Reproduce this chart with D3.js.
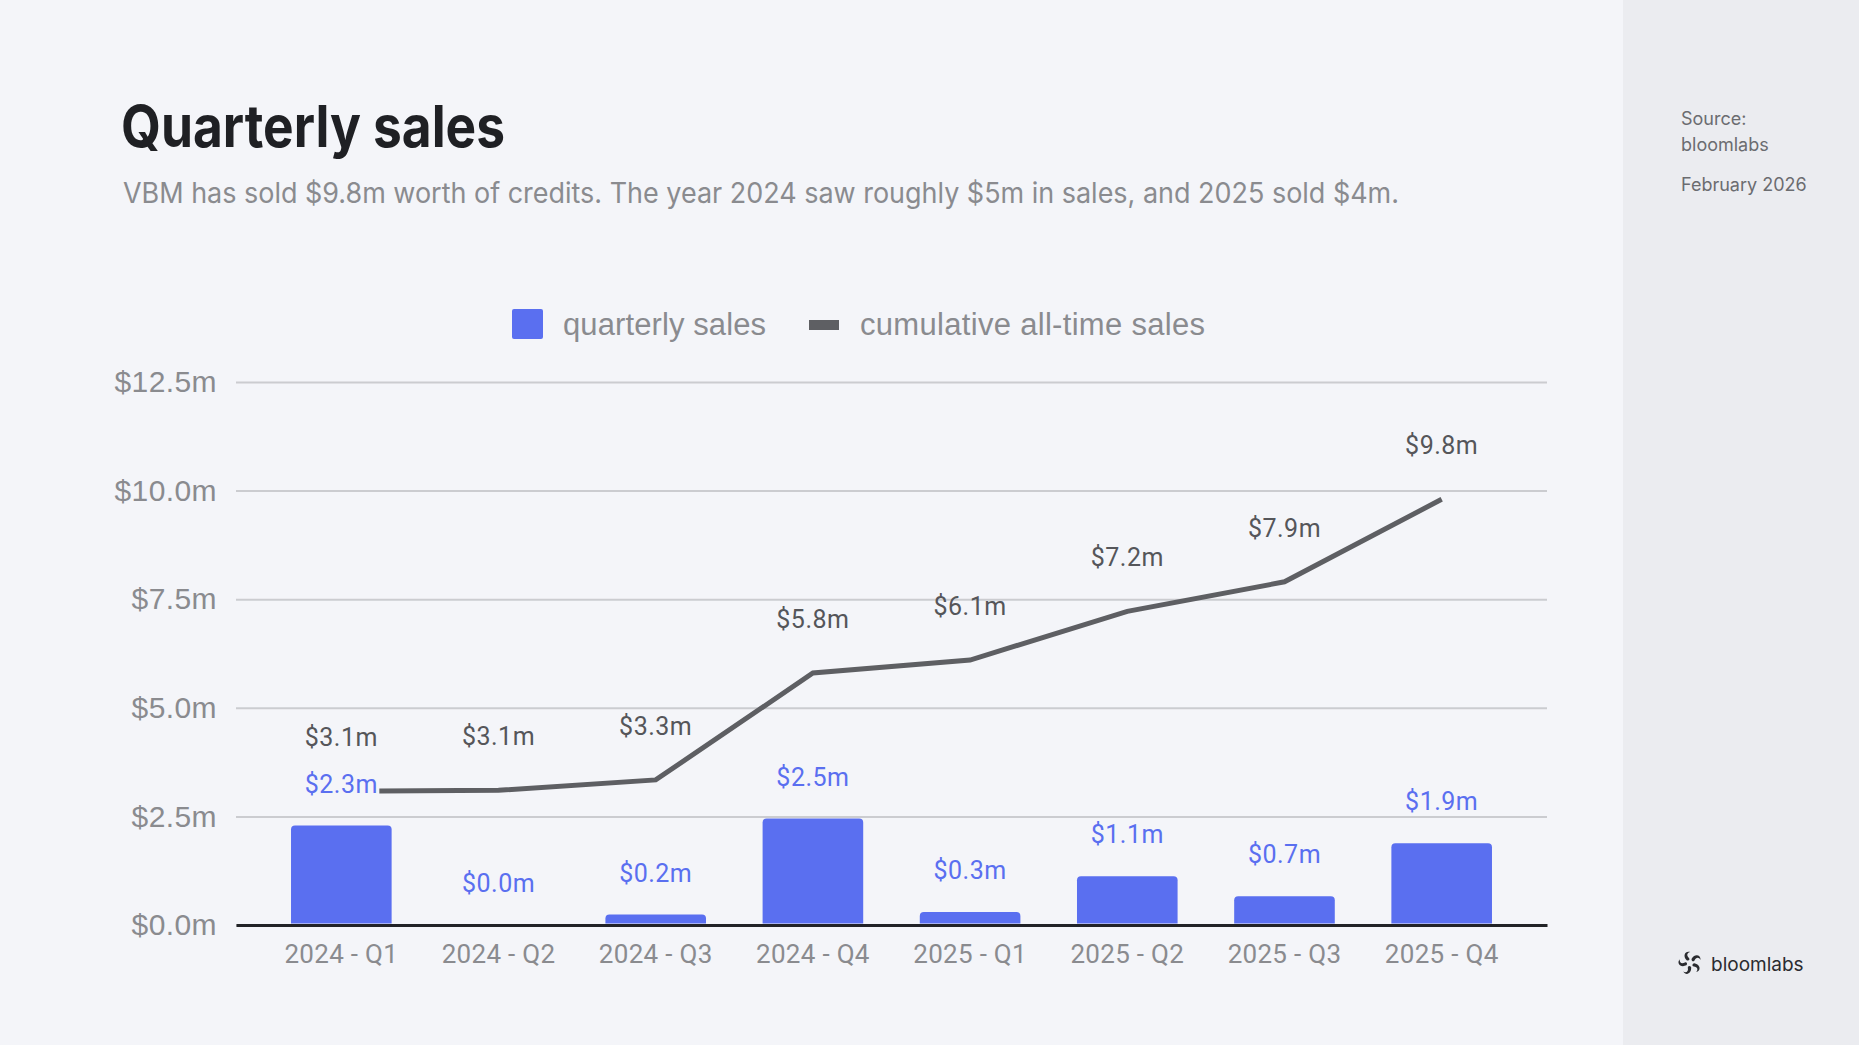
<!DOCTYPE html>
<html>
<head>
<meta charset="utf-8">
<script src="https://cdn.jsdelivr.net/npm/d3@7"></script>
<style>
  html, body { margin: 0; padding: 0; background: #f4f5f9; }
  svg { display: block; }
</style>
</head>
<body>
<script>
// chart data
let quarters = ["2024 - Q1", "2024 - Q2", "2024 - Q3", "2024 - Q4",
                "2025 - Q1", "2025 - Q2", "2025 - Q3", "2025 - Q4"];
let quarterlySales = [2.29, 0.0, 0.24, 2.45, 0.3, 1.12, 0.66, 1.88];
let cumulativeSales = [3.08, 3.1, 3.34, 5.8, 6.1, 7.22, 7.9, 9.8];
let yTicks = [0, 2.5, 5, 7.5, 10, 12.5];

const width = 1859,
    height = 1045;

const barColor = "#5a6ff0",
    lineColor = "#5e5f63",
    bg = "#f4f5f9";

let svg = d3.select("body").append("svg")
    .attr("width", width)
    .attr("height", height);

svg.append("rect").attr("width", width).attr("height", height).attr("fill", bg);
svg.append("rect").attr("x", 1623).attr("width", width - 1623).attr("height", height).attr("fill", "#ebecf0");

// title + subtitle
svg.append("text")
    .attr("x", 121).attr("y", 147)
    .attr("font-family", "Inter")
    .attr("font-weight", 700)
    .attr("font-size", 58)
    .attr("fill", "#1f2024")
    .attr("textLength", 384)
    .attr("lengthAdjust", "spacingAndGlyphs")
    .text("Quarterly sales");

svg.append("text")
    .attr("x", 123).attr("y", 203)
    .attr("font-family", "Inter")
    .attr("font-size", 28)
    .attr("fill", "#8a8b8f")
    .attr("textLength", 1276)
    .attr("lengthAdjust", "spacingAndGlyphs")
    .text("VBM has sold $9.8m worth of credits. The year 2024 saw roughly $5m in sales, and 2025 sold $4m.");

// side notes
let side = svg.append("g")
    .attr("font-family", "Inter")
    .attr("font-size", 18)
    .attr("fill", "#6b6c70");
side.append("text").attr("x", 1681).attr("y", 125).text("Source:");
side.append("text").attr("x", 1681).attr("y", 151).text("bloomlabs");
side.append("text").attr("x", 1681).attr("y", 191).text("February 2026");

// logo (pinwheel)
let logo = svg.append("g").attr("transform", "translate(1690,963)");
d3.range(5).forEach((i) => {
    logo.append("path")
        .attr("transform", "rotate(" + (i * 72) + ")")
        .attr("d", "M1.5,-4 C5,-10 11,-8 10.5,-3 C9,-6 6,-6 4.5,-2.5 C3.5,-1 1.5,-1.5 1.5,-4 Z")
        .attr("fill", "#2a2b2f");
});
svg.append("text")
    .attr("x", 1711).attr("y", 971)
    .attr("font-family", "Inter")
    .attr("font-size", 19)
    .attr("fill", "#2a2b2f")
    .text("bloomlabs");

// scales
let x = d3.scaleBand()
    .domain(quarters)
    .range([236, 1547])
    .paddingInner(0.36)
    .paddingOuter(0.35);

let y = d3.scaleLinear()
    .domain([0, 12.5])
    .range([925, 382]);

let fmt = (v) => "$" + v.toFixed(1) + "m";

// y axis with gridlines
let yAxis = svg.append("g")
    .attr("transform", "translate(236,0)")
    .call(d3.axisLeft(y)
        .tickValues(yTicks)
        .tickSize(-(1547 - 236))
        .tickPadding(19)
        .tickFormat(fmt));
yAxis.select(".domain").remove();
yAxis.selectAll(".tick line")
    .attr("stroke", "#cbccd0")
    .attr("stroke-width", 2);
yAxis.selectAll(".tick text")
    .attr("font-family", "Liberation Sans, Arial, sans-serif")
    .attr("font-size", 30)
    .attr("letter-spacing", 0.4)
    .attr("fill", "#8a8b8f");

// x axis
let xAxis = svg.append("g")
    .attr("transform", "translate(0," + y(0) + ")")
    .call(d3.axisBottom(x).tickSize(0).tickPadding(20));
xAxis.select(".domain")
    .attr("stroke", "#222327")
    .attr("stroke-width", 3);
xAxis.selectAll(".tick text")
    .attr("font-family", "Roboto")
    .attr("font-size", 26)
    .attr("letter-spacing", 0.3)
    .attr("fill", "#8a8b8f");

// bars
function topRounded(x0, y0, w, h, r) {
    if (h <= 0) return "";
    r = Math.min(r, h);
    return "M" + x0 + "," + (y0 + h) +
        "V" + (y0 + r) +
        "Q" + x0 + "," + y0 + " " + (x0 + r) + "," + y0 +
        "H" + (x0 + w - r) +
        "Q" + (x0 + w) + "," + y0 + " " + (x0 + w) + "," + (y0 + r) +
        "V" + (y0 + h) + "Z";
}

svg.append("g").selectAll("path")
    .data(quarterlySales)
    .enter().append("path")
    .attr("d", (d, i) => topRounded(x(quarters[i]), y(d), x.bandwidth(), y(0) - y(d) - 1.5, 4))
    .attr("fill", barColor);

// cumulative line
let line = d3.line()
    .x((d, i) => x(quarters[i]) + x.bandwidth() / 2)
    .y((d) => y(d));

svg.append("path")
    .datum(cumulativeSales)
    .attr("d", line)
    .attr("fill", "none")
    .attr("stroke", lineColor)
    .attr("stroke-width", 5);

// labels on the line
svg.append("g").selectAll("text")
    .data(cumulativeSales)
    .enter().append("text")
    .attr("x", (d, i) => x(quarters[i]) + x.bandwidth() / 2)
    .attr("y", (d) => y(d) - 45)
    .attr("text-anchor", "middle")
    .attr("font-family", "Roboto")
    .attr("font-size", 25)
    .attr("letter-spacing", 0.5)
    .attr("fill", "#55565a")
    .text(fmt);

// labels on the bars (with background so they sit over the line)
let barLabels = svg.append("g").selectAll("g")
    .data(quarterlySales)
    .enter().append("g")
    .attr("transform", (d, i) => "translate(" + (x(quarters[i]) + x.bandwidth() / 2) + "," + (y(d) - 33) + ")");

barLabels.append("rect")
    .attr("x", -38).attr("y", -21)
    .attr("width", 76).attr("height", 26)
    .attr("fill", bg);

barLabels.append("text")
    .attr("text-anchor", "middle")
    .attr("font-family", "Roboto")
    .attr("font-size", 25)
    .attr("letter-spacing", 0.5)
    .attr("fill", barColor)
    .text(fmt);

// legend
let legend = svg.append("g")
    .attr("font-family", "Liberation Sans, Arial, sans-serif")
    .attr("font-size", 31)
    .attr("fill", "#8a8b8f");
legend.append("rect")
    .attr("x", 512).attr("y", 309)
    .attr("width", 31).attr("height", 30)
    .attr("rx", 2)
    .attr("fill", barColor);
legend.append("text").attr("x", 563).attr("y", 335).attr("textLength", 203).text("quarterly sales");
legend.append("rect")
    .attr("x", 809).attr("y", 320)
    .attr("width", 30).attr("height", 10)
    .attr("fill", lineColor);
legend.append("text").attr("x", 860).attr("y", 335).attr("textLength", 345).text("cumulative all-time sales");
</script>
</body>
</html>
